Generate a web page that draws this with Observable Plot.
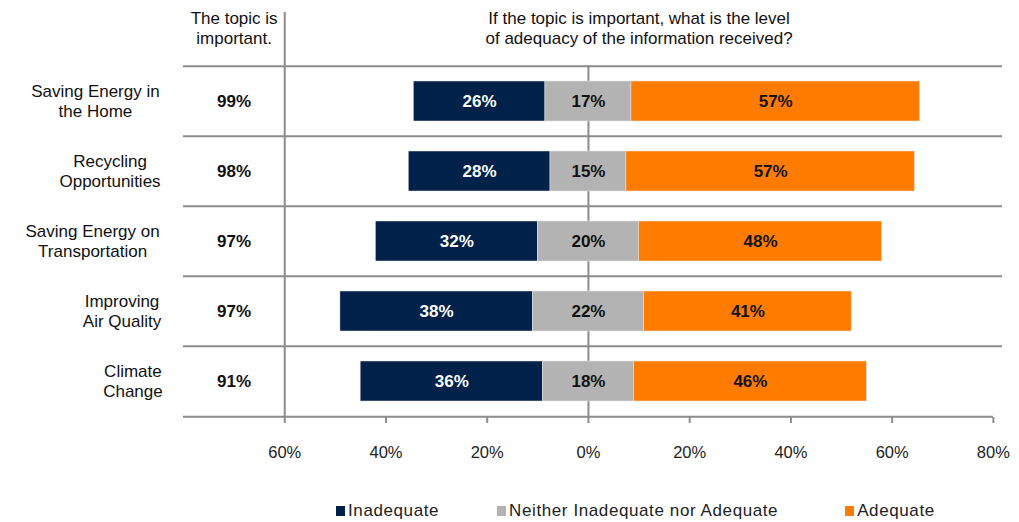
<!DOCTYPE html>
<html>
<head>
<meta charset="utf-8">
<script src="https://cdn.jsdelivr.net/npm/d3@7"></script>
<script src="https://cdn.jsdelivr.net/npm/@observablehq/plot@0.6"></script>
<style>
  body { margin: 0; background: #fff; font-family: "Liberation Sans", Arial, sans-serif; }
  #legend { display: flex; align-items: center; height: 22px; padding-left: 336px; font-size: 17px; letter-spacing: 0.6px; color: #222; }
  #legend .item { display: flex; align-items: center; }
  #legend .sw { width: 9px; height: 10px; margin-right: 3px; }
</style>
</head>
<body>
<div id="chart"></div>
<div id="legend"></div>
<script>
const topics = [
  "Saving Energy in\nthe Home",
  "Recycling\nOpportunities",
  "Saving Energy on\nTransportation",
  "Improving\nAir Quality",
  "Climate\nChange"
];
const important = [99, 98, 97, 97, 91];
const inadequate = [26, 28, 32, 38, 36];
const neutral = [17, 15, 20, 22, 18];
const adequate = [57, 57, 48, 41, 46];
const categories = ["Inadequate", "Neither Inadequate nor Adequate", "Adequate"];
const colors = ["#00214a", "#b3b3b3", "#ff7c00"];
const textColors = ["#ffffff", "#111111", "#111111"];
const xTicks = [-60, -40, -20, 0, 20, 40, 60, 80];
const headerLeft = "The topic is\nimportant.";
const headerRight = "If the topic is important, what is the level\nof adequacy of the information received?";

// Build segments: neutral centered on zero
const segments = [];
topics.forEach((t, i) => {
  const h = neutral[i] / 2;
  segments.push({topic: t, cat: categories[0], v: inadequate[i], x1: -h - inadequate[i], x2: -h, tc: textColors[0]});
  segments.push({topic: t, cat: categories[1], v: neutral[i], x1: -h, x2: h, tc: textColors[1]});
  segments.push({topic: t, cat: categories[2], v: adequate[i], x1: h, x2: h + adequate[i], tc: textColors[2]});
});
const impData = topics.map((t, i) => ({topic: t, v: important[i]}));

const font = "Liberation Sans, Arial, sans-serif";
const LS = 0.6;
const ctx = document.createElement("canvas").getContext("2d");
ctx.font = "17px Liberation Sans";
const measure = s => ctx.measureText(s).width + LS * s.length;
const labelMarks = topics.map(t => {
  const w = Math.max(...t.split("\n").map(measure));
  return Plot.text([t], {
    x: () => -80, y: d => d, text: d => d,
    dx: -19 - w / 2, dy: -1, textAnchor: "middle", lineHeight: 1.18,
    fontSize: 17, fill: "#111", letterSpacing: LS
  });
});

const gray = "#8c8c8c";
const chart = Plot.plot({
  width: 1019,
  height: 500,
  marginLeft: 183,
  marginRight: 17,
  marginTop: 65,
  marginBottom: 83,
  style: {fontFamily: font, fontSize: "16px", color: "#111", background: "#fff"},
  x: {domain: [-80, 81.8], axis: null},
  y: {domain: topics, paddingInner: 0.432, paddingOuter: 0.216, axis: null},
  color: {domain: categories, range: colors},
  marks: [
    // horizontal separators
    Plot.ruleY(topics, {y: d => d, dy: -35.2, x1: -80, x2: 81.8, stroke: gray, strokeWidth: 2}),
    Plot.ruleY([topics[topics.length - 1]], {y: d => d, dy: 35.2, x1: -80, x2: 80, stroke: gray, strokeWidth: 2}),
    // vertical line separating the columns
    Plot.ruleX([-60], {stroke: gray, strokeWidth: 2, insetTop: -53}),
    // zero line
    Plot.ruleX([0], {stroke: gray, strokeWidth: 2}),
    Plot.axisX({ticks: xTicks, tickFormat: d => Math.abs(d) + "%", tickSize: 6, tickPadding: 23,
      stroke: gray, strokeWidth: 2, fontSize: 16.5, color: "#222", anchor: "bottom"}),
    Plot.barX(segments, {x1: "x1", x2: "x2", y: "topic", fill: "cat", stroke: "#e8e8e8", strokeWidth: 0.5}),
    Plot.text(segments, {x: d => (d.x1 + d.x2) / 2, y: "topic", text: d => d.v + "%", fill: "tc",
      fontWeight: "bold", fontSize: 17}),
    Plot.text(impData, {x: () => -70, y: "topic", text: d => d.v + "%", fontWeight: "bold", fontSize: 17, fill: "#111"}),
    Plot.text([headerLeft], {x: () => -70, frameAnchor: "top", lineAnchor: "middle", dy: -38, text: d => d,
      lineHeight: 1.18, fontSize: 17, fill: "#111", letterSpacing: LS}),
    Plot.text([headerRight], {x: () => 10, frameAnchor: "top", lineAnchor: "middle", dy: -38, text: d => d,
      lineHeight: 1.18, fontSize: 17, fill: "#111", letterSpacing: LS}),
    ...labelMarks
  ]
});
document.getElementById("chart").appendChild(chart);

const legend = document.getElementById("legend");
const gaps = [0, 58, 67];
categories.forEach((c, i) => {
  const item = document.createElement("div");
  item.className = "item";
  item.style.marginLeft = gaps[i] + "px";
  const sw = document.createElement("div");
  sw.className = "sw";
  sw.style.background = colors[i];
  const lab = document.createElement("span");
  lab.textContent = c;
  item.appendChild(sw);
  item.appendChild(lab);
  legend.appendChild(item);
});
</script>
</body>
</html>
